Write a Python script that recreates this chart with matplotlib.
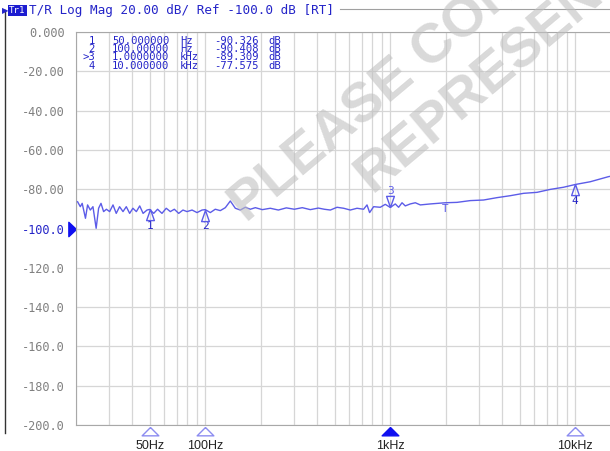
import matplotlib
matplotlib.use("Agg")
import matplotlib.pyplot as plt
from matplotlib.path import Path
from matplotlib.ticker import LogLocator, NullFormatter
from matplotlib import transforms

# trace (Hz, dB)
freq = [20.4, 21.1, 21.6, 22.5, 23.1, 23.9, 24.7, 25.7, 26.5, 27.3, 28.2, 29.2,
        30.4, 31.7, 33.0, 34.4, 35.9, 37.4, 39.0, 40.6, 42.4, 44.2, 46.1, 48.4,
        50.0, 52.6, 55.2, 58.3, 61.5, 64.7, 68.0, 71.8, 75.7, 79.6, 84.8, 90.2,
        96.0, 100.0, 106.4, 113.2, 120.5, 128.3, 136.5, 145.3, 154.6, 164.6,
        175.1, 186.4, 203.3, 224.5, 248.2, 274.1, 302.9, 334.4, 369.5, 408.2,
        439.7, 474.1, 515.3, 559.6, 607.7, 660.7, 717.3, 748.3, 773.0, 812.4,
        882.6, 939.4, 1000, 1064, 1109, 1157, 1205, 1282, 1365, 1453, 1645,
        1983, 2294, 2706, 3194, 3772, 4454, 5253, 6205, 7324, 8643, 10000,
        12050, 15130, 20000]
mag = [-86.4, -88.9, -87.2, -94.8, -88.0, -90.6, -88.9, -99.9, -89.7, -87.2,
       -91.4, -90.2, -91.4, -88.0, -92.3, -88.9, -91.4, -88.9, -92.3, -89.7,
       -91.4, -88.5, -92.3, -90.6, -90.3, -92.3, -90.2, -92.3, -89.7, -91.4,
       -90.2, -92.3, -90.6, -91.4, -90.6, -91.9, -90.6, -90.4, -91.9, -90.2,
       -90.9, -89.4, -86.0, -89.7, -90.6, -89.2, -90.2, -89.4, -90.4, -89.7,
       -90.6, -89.5, -90.2, -89.4, -90.4, -89.6, -90.2, -90.6, -89.2, -89.7,
       -90.6, -89.7, -90.2, -88.0, -91.9, -88.9, -89.2, -87.7, -89.3, -87.5,
       -89.2, -86.9, -88.5, -87.5, -86.9, -88.0, -87.5, -86.9, -86.7, -85.8,
       -85.5, -84.3, -83.3, -82.1, -81.6, -80.1, -79.0, -77.6, -76.2, -73.6,
       -71.5]

marker_ids = ['1', '2', '>3', '4']
marker_freq = [50, 100, 1000, 10000]
marker_mag = [-90.326, -90.408, -89.309, -77.575]
marker_freq_txt = ['50.000000', '100.00000', '1.0000000', '10.000000']
marker_unit = ['Hz', 'Hz', 'kHz', 'kHz']
marker_mag_txt = ['-90.326', '-90.408', '-89.309', '-77.575']
active = 2

xtick_vals = [50, 100, 1000, 10000]
xtick_labels = ['50Hz', '100Hz', '1kHz', '10kHz']
ytick_vals = [0, -20, -40, -60, -80, -100, -120, -140, -160, -180, -200]
ytick_labels = ['0.000', '-20.00', '-40.00', '-60.00', '-80.00', '-100.0',
                '-120.0', '-140.0', '-160.0', '-180.0', '-200.0']
ref_level = -100
extra_mark_freq = 1983

blue = '#2424c8'
trace_col = '#5c5ce8'
W, H = 610, 451

def fx(px):
    return px / W

def fy(py):
    return 1 - py / H

fig = plt.figure(figsize=(6.1, 4.51), dpi=100)
fig.patch.set_facecolor('white')
ax = fig.add_axes([fx(76), fy(425), 555 / W, 393 / H])

ax.set_xscale('log')
ax.set_xlim(20, 20000)
ax.set_ylim(-200, 0)
ax.xaxis.set_minor_locator(LogLocator(base=10, subs=range(2, 10)))
ax.xaxis.set_minor_formatter(NullFormatter())
ax.set_xticks(xtick_vals)
ax.set_xticklabels(xtick_labels, family='Liberation Sans', fontsize=9, color='#222222')
ax.set_yticks(ytick_vals)
ax.set_yticklabels(ytick_labels, family='DejaVu Sans Mono', fontsize=8.6, color='#808080')
for lab, v in zip(ax.get_yticklabels(), ytick_vals):
    if v == ref_level:
        lab.set_color(blue)
ax.tick_params(axis='both', which='both', length=0)
ax.tick_params(axis='y', pad=8)
ax.tick_params(axis='x', pad=10.5)
ax.grid(True, which='both', color='#d6d6d6', lw=0.9)
ax.set_axisbelow(True)
for s in ax.spines.values():
    s.set_color('#a8a8a8')

ax.plot(freq, mag, color=trace_col, lw=1.0, zorder=3)

# trace markers
up_tri = Path([(0, 0), (-0.35, -1), (0.35, -1), (0, 0)])
dn_tri = Path([(0, 0), (-0.35, 1), (0.35, 1), (0, 0)])
for i, (f, m) in enumerate(zip(marker_freq, marker_mag)):
    num = marker_ids[i].replace('>', '')
    if i == active:
        ax.plot([f], [m], marker=dn_tri, ms=16, mfc='none', mec=trace_col, mew=1, zorder=4)
        ax.annotate(num, (f, m), xytext=(0, 12), textcoords='offset points',
                    ha='center', va='center', color=trace_col, fontsize=8,
                    family='DejaVu Sans Mono')
    else:
        ax.plot([f], [m], marker=up_tri, ms=16, mfc='none', mec=trace_col, mew=1, zorder=4)
        ax.annotate(num, (f, m), xytext=(0, -12), textcoords='offset points',
                    ha='center', va='center', color=blue, fontsize=8,
                    family='DejaVu Sans Mono')

# small stem mark on the trace
ax.annotate('T', (extra_mark_freq, -86.9), xytext=(0, -1), textcoords='offset points',
            ha='center', va='top', color=trace_col, fontsize=8, family='DejaVu Sans Mono')

# stimulus markers under the axis (wide, flat triangles)
stim_tri = Path([(0, 0), (-1, -1), (1, -1), (0, 0)])
off = transforms.ScaledTranslation(0, -1.2 / 72, fig.dpi_scale_trans)
tr = ax.get_xaxis_transform() + off
for i, f in enumerate(marker_freq):
    if i == active:
        ax.plot([f], [0], marker=stim_tri, ms=12, mfc='#1010f0', mec='#1010f0',
                transform=tr, clip_on=False)
    else:
        ax.plot([f], [0], marker=stim_tri, ms=12, mfc='white', mec='#8c8cf0', mew=1,
                transform=tr, clip_on=False)

# reference level arrow on the left
ref_tri = Path([(0, 0), (-0.8, 0.75), (-0.8, -0.75), (0, 0)])
ax.plot([0], [ref_level], marker=ref_tri, ms=11, mfc='#1010f0', mec='#1010f0',
        transform=ax.get_yaxis_transform(), clip_on=False)

# marker table
row_y = [40.5, 49.0, 57.5, 66.0]
tfont = dict(family='DejaVu Sans Mono', fontsize=7.6, color=blue, va='center')
for i in range(4):
    y = fy(row_y[i])
    fig.text(fx(95), y, marker_ids[i], ha='right', **tfont)
    fig.text(fx(112), y, marker_freq_txt[i], ha='left', **tfont)
    fig.text(fx(180), y, marker_unit[i], ha='left', **tfont)
    fig.text(fx(214), y, marker_mag_txt[i], ha='left', **tfont)
    fig.text(fx(268), y, 'dB', ha='left', **tfont)

# header line
fig.text(fx(2), fy(10.5), '\u25b6', color=blue, fontsize=6, va='center', ha='left',
         family='DejaVu Sans')
fig.text(fx(9), fy(10.5), 'Tr1', color='white', fontsize=6.6, va='center', ha='left',
         family='DejaVu Sans Mono',
         bbox=dict(boxstyle='square,pad=0.15', fc='#1c1cd0', ec='none'))
fig.text(fx(29), fy(10.5), 'T/R Log Mag 20.00 dB/ Ref -100.0 dB [RT]', color=blue,
         fontsize=9.1, va='center', ha='left', family='DejaVu Sans Mono')
fig.add_artist(plt.Line2D([fx(340), fx(610)], [fy(9), fy(9)], color='#a0a0a0', lw=0.8))
fig.add_artist(plt.Line2D([fx(5), fx(5)], [fy(10), fy(433)], color='#333333', lw=1))

# watermark
wm = dict(family='Liberation Sans', fontweight='bold', fontsize=40, color='#c0c0c0',
          alpha=0.6, rotation=40, rotation_mode='anchor', ha='left', va='baseline', zorder=10)
fig.text(fx(247), fy(224), 'PLEASE CONFIRM', **wm)
fig.text(fx(372), fy(194), 'REPRESENTATIVE', **wm)

fig.savefig('out.png', dpi=100, facecolor='white')
